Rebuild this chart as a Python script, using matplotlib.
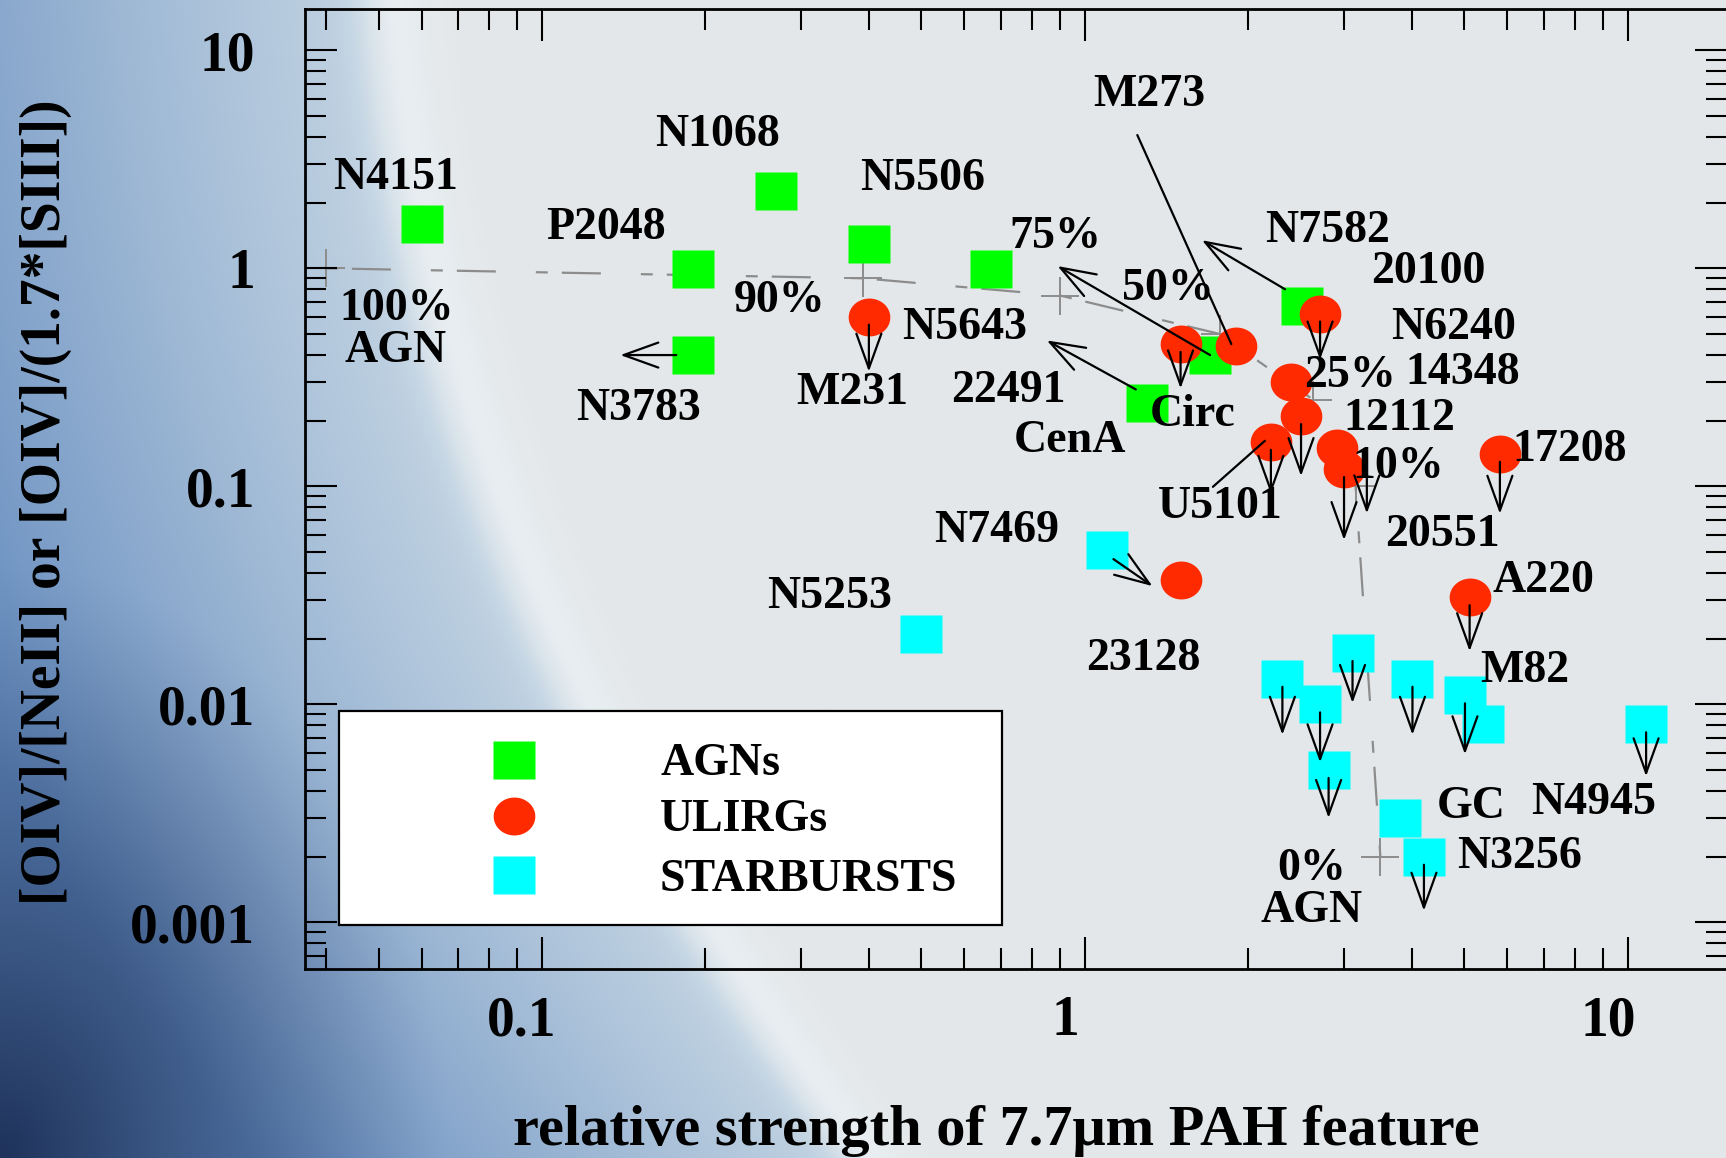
import numpy as np
import matplotlib
matplotlib.use("Agg")
import matplotlib.pyplot as plt
from matplotlib.path import Path
from matplotlib.lines import Line2D
from matplotlib.patches import Rectangle
from matplotlib.text import OffsetFrom
from matplotlib.ticker import LogLocator, FuncFormatter, NullFormatter, FixedLocator
from matplotlib.transforms import ScaledTranslation

plt.rcParams["font.family"] = ["Liberation Serif", "DejaVu Serif"]
plt.rcParams["font.weight"] = "bold"
plt.rcParams["lines.scale_dashes"] = False

# ---------------- data ----------------
agn_names = ["N4151", "N1068", "N5506", "P2048", "N3783", "N5643", "N7582", "Circ", "CenA"]
agn_x = [0.060, 0.27, 0.40, 0.19, 0.19, 0.67, 2.51, 1.70, 1.30]
agn_y = [1.59, 2.27, 1.29, 0.99, 0.40, 0.99, 0.67, 0.40, 0.24]

ulirg_names = ["M231", "22491", "M273", "20100", "14348", "U5101", "12112",
               "N6240", "20551", "17208", "A220", "23128"]
ulirg_x = [0.40, 1.50, 1.90, 2.71, 2.40, 2.20, 2.50, 2.91, 3.00, 5.81, 5.11, 1.50]
ulirg_y = [0.60, 0.45, 0.44, 0.62, 0.30, 0.16, 0.21, 0.15, 0.12, 0.141, 0.031, 0.037]

sb_names = ["N7469", "N5253", "sb_a", "sb_b", "sb_c", "sb_d", "sb_e", "sb_g", "M82",
            "N4945", "GC", "N3256"]
sb_x = [1.10, 0.50, 2.31, 2.71, 3.11, 2.81, 4.01, 5.41, 5.01, 10.8, 3.81, 4.21]
sb_y = [0.051, 0.021, 0.0131, 0.0100, 0.0172, 0.0050, 0.0131, 0.0081, 0.0110,
        0.0081, 0.0030, 0.0020]

# AGN / starburst mixing track
mix_x = [0.04, 0.39, 0.90, 1.77, 2.63, 3.15, 3.50]
mix_y = [1.0, 0.90, 0.75, 0.50, 0.25, 0.10, 0.002]

x_ticks = [0.1, 1, 10]
y_ticks = [0.001, 0.01, 0.1, 1, 10]

legend_labels = ["AGNs", "ULIRGs", "STARBURSTS"]

# ---------------- figure geometry ----------------
W, H, DPI = 1726, 1158, 100
PT = 72.0 / DPI  # pixels -> points


def fx(px):
    return px / W


def fy(py):
    return 1.0 - py / H


fig = plt.figure(figsize=(W / DPI, H / DPI), dpi=DPI)

# slide-style background: blue wash on the left fading into light grey,
# with a pale light streak along the transition
yy, xx = np.mgrid[0:H, 0:W].astype(float)
edge = 395 + 0.069 * yy + 2.97e-4 * yy ** 2
gray = np.array([228, 231, 233.0])
pale = np.array([196, 213, 227.0])
mid = np.array([98, 138, 190.0])
navy = np.array([30, 50, 90.0])
glow = np.array([240, 244, 245.0])
dist = edge - xx
s1 = np.clip(dist / 90 + 0.5, 0, 1)[..., None]
img = gray * (1 - s1) + pale * s1
t = (np.clip(dist / 620, 0, 1) ** 1.15)[..., None]
img = img * (1 - t) + mid * t
r = np.sqrt((xx / 450) ** 2 + ((H - yy) / 600) ** 2)
d = (np.clip(1 - r, 0, 1) ** 1.2)[..., None]
img = img * (1 - d) + navy * d
h = (np.exp(-((xx - edge) / 38) ** 2) * 0.7)[..., None]
img = img * (1 - h) + glow * h
fig.figimage(np.clip(img, 0, 255).astype(np.uint8), 0, 0, origin="upper", zorder=-10)

ax = fig.add_axes([fx(305), fy(968.7), fx(1727) - fx(305), fy(8.8) - fy(968.7)])
ax.set_facecolor("none")
ax.set_xscale("log")
ax.set_yscale("log")
ax.set_xlim(0.03661, 15.22)
ax.set_ylim(0.000613, 15.5)

for sp in ax.spines.values():
    sp.set_linewidth(2.0)

fmt = FuncFormatter(lambda v, p: f"{v:g}")
ax.xaxis.set_major_locator(FixedLocator(x_ticks))
ax.yaxis.set_major_locator(FixedLocator(y_ticks))
ax.xaxis.set_minor_locator(LogLocator(base=10, subs=np.arange(2, 10), numticks=30))
ax.yaxis.set_minor_locator(LogLocator(base=10, subs=np.arange(2, 10), numticks=30))
ax.xaxis.set_major_formatter(fmt)
ax.yaxis.set_major_formatter(fmt)
ax.xaxis.set_minor_formatter(NullFormatter())
ax.yaxis.set_minor_formatter(NullFormatter())
ax.tick_params(which="both", direction="in", top=True, right=True, width=1.5, color="k")
ax.tick_params(which="major", length=23, labelsize=40)
ax.tick_params(which="minor", length=15)
ax.tick_params(axis="x", which="major", pad=19)
ax.tick_params(axis="y", which="major", pad=36)
shift = ScaledTranslation(-0.20, 0, fig.dpi_scale_trans)
for lbl in ax.get_xticklabels():
    lbl.set_transform(lbl.get_transform() + shift)

# mixing track with crosshairs
ax.plot(mix_x, mix_y, color="#8c8c8c", lw=1.6, dashes=(8.6, 10.1, 28.1, 28.8),
        dash_capstyle="butt", zorder=1)
ax.plot(mix_x, mix_y, ls="none", marker="+", ms=28, mew=1.4, color="#8c8c8c", zorder=1)

# marker shapes
rect = Path([(-1, -0.91), (1, -0.91), (1, 0.91), (-1, 0.91), (-1, -0.91)], closed=True)
tt = np.linspace(0, 2 * np.pi, 65)
ell = Path(np.c_[np.cos(tt), 0.91 * np.sin(tt)], closed=True)

C_AGN, C_ULIRG, C_SB = "#00ff00", "#ff2a00", "#00ffff"
ax.plot(agn_x, agn_y, ls="none", marker=rect, ms=30, color=C_AGN, mec="none", zorder=3)
ax.plot(sb_x, sb_y, ls="none", marker=rect, ms=30, color=C_SB, mec="none", zorder=3)
ax.plot(ulirg_x, ulirg_y, ls="none", marker=ell, ms=30, color=C_ULIRG, mec="none", zorder=3)

pos = {}
for names, xs, ys in ((agn_names, agn_x, agn_y), (ulirg_names, ulirg_x, ulirg_y),
                      (sb_names, sb_x, sb_y)):
    for n, xv, yv in zip(names, xs, ys):
        pos[n] = (xv, yv)

ARROW = "->,head_length=2.5,head_width=0.9"


def offset_arrow(name, tail, tip, style):
    ref = OffsetFrom(ax.transData, pos[name], unit="points")
    ax.annotate("", xy=(tip[0] * PT, tip[1] * PT), xycoords=ref,
                xytext=(tail[0] * PT, tail[1] * PT), textcoords=ref,
                arrowprops=dict(arrowstyle=style, color="k", lw=1.6, shrinkA=0,
                                shrinkB=0, mutation_scale=10),
                zorder=4)


# upper limits (arrow length in pixels below the symbol centre)
down_limits = {"M231": 55, "22491": 44.5, "20100": 46, "12112": 60, "U5101": 52,
               "20551": 71, "17208": 60, "A220": 54, "sb_a": 56, "sb_b": 58,
               "sb_c": 50, "sb_d": 48, "sb_e": 56, "M82": 59, "N4945": 52, "N3256": 54}
for n, length in down_limits.items():
    offset_arrow(n, (0, -8), (0, -length), ARROW)

# other arrows and leader lines (pixel offsets from the symbol centre)
extra = [
    ("N3783", (-17, 0), (-73, 0), ARROW),
    ("N7582", (-17, 17), (-100, 66), ARROW),
    ("CenA", (-11, 14), (-100, 63), ARROW),
    ("Circ", (0, 0), (-152.5, 89), ARROW),
    ("N7469", (6, -9), (45, -36), ARROW),
    ("N6240", (30, -9), (30, -65.5), ARROW),
    ("M273", (-99, 211), (-5, 2), "-"),
    ("U5101", (-6, 1), (-58, -45), "-"),
]
for n, tail, tip, st in extra:
    offset_arrow(n, tail, tip, st)

# object names and mixing fractions
labels = [
    ("N4151", 396, 173), ("N1068", 717, 130), ("N5506", 923, 175), ("P2048", 606, 223),
    ("N3783", 638, 404), ("90%", 780, 297), ("75%", 1055, 232), ("N5643", 965, 323),
    ("M231", 852, 388), ("22491", 1008, 387), ("CenA", 1070, 437), ("M273", 1149, 90),
    ("N7582", 1328, 226), ("20100", 1428, 267), ("N6240", 1454, 323), ("14348", 1463, 368),
    ("25%", 1350, 372), ("12112", 1399, 415), ("10%", 1398, 463), ("20551", 1442, 530),
    ("U5101", 1220, 503), ("50%", 1168, 285), ("Circ", 1193, 410), ("17208", 1570, 445),
    ("N7469", 997, 527), ("N5253", 830, 592), ("23128", 1143, 655), ("A220", 1543, 577),
    ("M82", 1525, 666), ("GC", 1471, 803), ("N4945", 1594, 799), ("N3256", 1520, 853),
    ("100%", 397, 305), ("AGN", 396, 347), ("0%", 1312, 865), ("AGN", 1312, 907),
]
for s, px, py in labels:
    fig.text(fx(px), fy(py + 15.5), s, fontsize=33, ha="center", va="baseline", zorder=7)

# legend box
fig.add_artist(Rectangle((fx(339), fy(925)), fx(1002) - fx(339), fy(711) - fy(925),
                         transform=fig.transFigure, facecolor="white", edgecolor="black",
                         lw=1.6, zorder=5))
for (mk, col), ypx, lab in zip([(rect, C_AGN), (ell, C_ULIRG), (rect, C_SB)],
                               [759.5, 815.7, 875.2], legend_labels):
    fig.add_artist(Line2D([fx(514)], [fy(ypx)], transform=fig.transFigure, marker=mk, ms=30,
                          color=col, mec="none", ls="none", zorder=6))
    fig.text(fx(660), fy(ypx + 15.5), lab, fontsize=33, ha="left", va="baseline", zorder=6)

# axis titles
fig.text(fx(996), fy(1145), "relative strength of 7.7\u03bcm PAH feature", fontsize=42,
         ha="center", va="baseline")
fig.text(fx(46), fy(502), "[OIV]/[NeII] or [OIV]/(1.7*[SIII])", fontsize=40,
         rotation=90, ha="center", va="center")

fig.savefig("out.png", dpi=DPI)
